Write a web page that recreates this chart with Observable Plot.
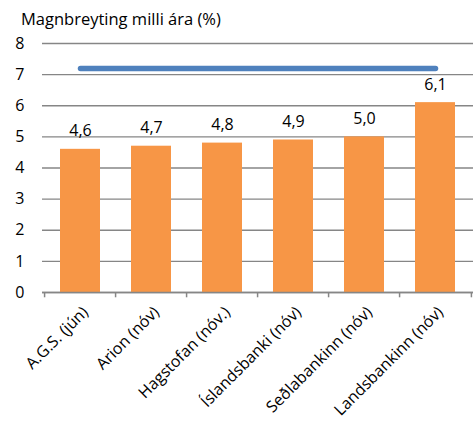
<!DOCTYPE html>
<html>
<head>
<meta charset="utf-8">
<script src="https://cdn.jsdelivr.net/npm/d3@7"></script>
<script src="https://cdn.jsdelivr.net/npm/@observablehq/plot@0.6"></script>
<style>
  html, body { margin: 0; padding: 0; background: #fff; }
  #wrap { position: relative; width: 475px; height: 421px; }
  #title { position: absolute; left: 21px; top: 7px; font: 16.5px "Open Sans", sans-serif; color: #000; white-space: nowrap; }
</style>
</head>
<body>
<div id="wrap"><div id="title">Magnbreyting milli ára (%)</div></div>
<script>
const categories = ["A.G.S. (jún)", "Arion (nóv)", "Hagstofan (nóv.)", "Íslandsbanki (nóv)", "Seðlabankinn (nóv)", "Landsbankinn (nóv)"];
const values = [4.6, 4.7, 4.8, 4.9, 5.0, 6.1];
const lineValues = [7.2, 7.2, 7.2, 7.2, 7.2, 7.2];
const yTicks = [0, 1, 2, 3, 4, 5, 6, 7, 8];

const bars = categories.map((c, i) => ({cat: c, value: values[i]}));
const line = categories.map((c, i) => ({cat: c, value: lineValues[i]}));

const width = 475, marginLeft = 42, marginRight = 2;
const step = (width - marginLeft - marginRight) / categories.length;
const fmt = d3.format(".1f");

const chart = Plot.plot({
  width, height: 421,
  marginTop: 43, marginBottom: 129, marginLeft, marginRight,
  style: {fontFamily: "'Open Sans', sans-serif", fontSize: "16px", color: "#000", background: "#fff"},
  x: {domain: categories, paddingInner: 0.43, paddingOuter: 0.215, label: null},
  y: {domain: [0, 8], label: null},
  marks: [
    Plot.gridY(yTicks, {stroke: "#868686", strokeOpacity: 1, strokeWidth: 1.3}),
    Plot.axisY(yTicks, {tickSize: 0, tickPadding: 18, fontSize: 16, label: null}),
    Plot.barY(bars, {x: "cat", y: "value", fill: "#f79646"}),
    Plot.ruleY([0], {stroke: "#868686", strokeWidth: 1.5}),
    Plot.ruleX(categories, {x: d => d, y1: 0, y2: -0.17, dx: -step / 2, stroke: "#868686", strokeWidth: 1.5}),
    Plot.ruleX(categories.slice(-1), {x: d => d, y1: 0, y2: -0.17, dx: step / 2, stroke: "#868686", strokeWidth: 1.5}),
    Plot.axisX(categories, {tickSize: 0, tickPadding: 10, tickRotate: -45, dx: 5, dy: 7, fontSize: 16, label: null}),
    Plot.line(line, {x: "cat", y: "value", stroke: "#4f81bd", strokeWidth: 5.5, strokeLinecap: "round"}),
    Plot.text(bars, {x: "cat", y: "value", text: d => fmt(d.value).replace(".", ","), dy: -18, fontSize: 16, fill: "#000"})
  ]
});
document.getElementById("wrap").appendChild(chart);
</script>
</body>
</html>
